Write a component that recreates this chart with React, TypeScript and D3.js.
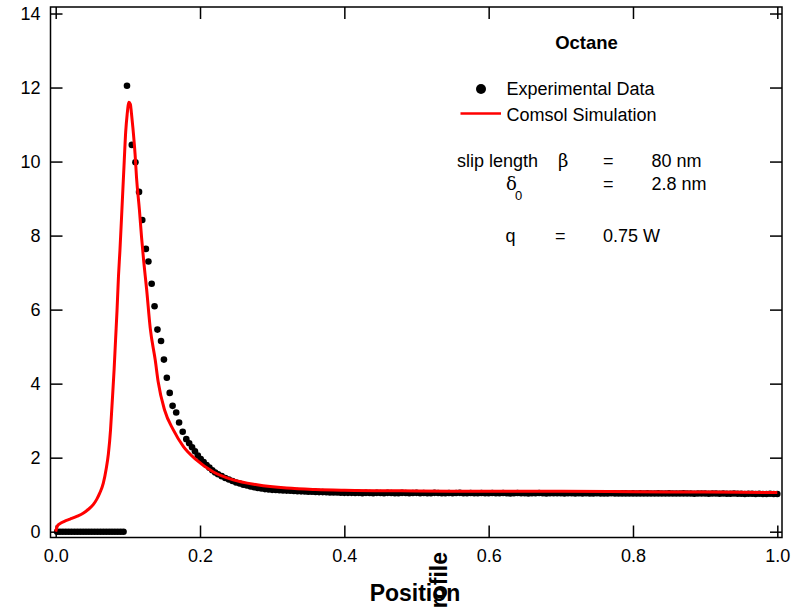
import React, { useEffect, useRef } from "react";
import * as d3 from "d3";

// experimental data (black dots)
const expPosition = [
  0.002, 0.006, 0.01, 0.014, 0.018, 0.022, 0.026, 0.03, 0.034, 0.038, 0.042, 0.046,
  0.05, 0.054, 0.058, 0.062, 0.066, 0.07, 0.074, 0.078, 0.082, 0.086, 0.09, 0.094,
  0.0988, 0.1055, 0.1105, 0.1155, 0.12, 0.125, 0.1285, 0.133, 0.137, 0.141, 0.146,
  0.15, 0.154, 0.158, 0.162, 0.167, 0.171, 0.176, 0.181, 0.185, 0.189, 0.193, 0.197,
  0.201, 0.205, 0.209, 0.213, 0.217, 0.221, 0.225, 0.23, 0.235, 0.24, 0.245, 0.25,
  0.255, 0.26, 0.265, 0.27, 0.275, 0.28, 0.285, 0.29, 0.295,
  0.3, 0.305, 0.31, 0.315, 0.32, 0.325, 0.33, 0.335, 0.34, 0.345,
  0.35, 0.355, 0.36, 0.365, 0.37, 0.375, 0.38, 0.385, 0.39, 0.395,
  0.4, 0.405, 0.41, 0.415, 0.42, 0.425, 0.43, 0.435, 0.44, 0.445,
  0.45, 0.455, 0.46, 0.465, 0.47, 0.475, 0.48, 0.485, 0.49, 0.495,
  0.5, 0.505, 0.51, 0.515, 0.52, 0.525, 0.53, 0.535, 0.54, 0.545,
  0.55, 0.555, 0.56, 0.565, 0.57, 0.575, 0.58, 0.585, 0.59, 0.595,
  0.6, 0.605, 0.61, 0.615, 0.62, 0.625, 0.63, 0.635, 0.64, 0.645,
  0.65, 0.655, 0.66, 0.665, 0.67, 0.675, 0.68, 0.685, 0.69, 0.695,
  0.7, 0.705, 0.71, 0.715, 0.72, 0.725, 0.73, 0.735, 0.74, 0.745,
  0.75, 0.755, 0.76, 0.765, 0.77, 0.775, 0.78, 0.785, 0.79, 0.795,
  0.8, 0.805, 0.81, 0.815, 0.82, 0.825, 0.83, 0.835, 0.84, 0.845,
  0.85, 0.855, 0.86, 0.865, 0.87, 0.875, 0.88, 0.885, 0.89, 0.895,
  0.9, 0.905, 0.91, 0.915, 0.92, 0.925, 0.93, 0.935, 0.94, 0.945,
  0.95, 0.955, 0.96, 0.965, 0.97, 0.975, 0.98, 0.985, 0.99, 0.995,
  1.0,
];
const expValue = [
  0, 0, 0, 0, 0, 0, 0, 0, 0, 0, 0, 0,
  0, 0, 0, 0, 0, 0, 0, 0, 0, 0, 0, 0,
  12.05, 10.45, 9.98, 9.18, 8.42, 7.64, 7.3, 6.7, 6.09, 5.46, 5.15,
  4.65, 4.16, 3.75, 3.4, 3.22, 2.95, 2.7, 2.5, 2.39, 2.28, 2.17, 2.06,
  1.96, 1.88, 1.8, 1.73, 1.66, 1.6, 1.55, 1.5, 1.45, 1.41, 1.37, 1.33,
  1.3, 1.27, 1.25, 1.22, 1.2, 1.18, 1.17, 1.15, 1.14,
  1.13, 1.125, 1.12, 1.115, 1.11, 1.105, 1.1, 1.095, 1.09, 1.085,
  1.08, 1.078, 1.075, 1.07, 1.07, 1.065, 1.06, 1.06, 1.06, 1.055,
  1.05, 1.05, 1.05, 1.045, 1.05, 1.04, 1.05, 1.045, 1.04, 1.05,
  1.045, 1.04, 1.05, 1.045, 1.04, 1.04, 1.05, 1.045, 1.04, 1.045,
  1.05, 1.04, 1.045, 1.04, 1.04, 1.05, 1.045, 1.04, 1.04, 1.045,
  1.04, 1.045, 1.05, 1.04, 1.04, 1.045, 1.04, 1.04, 1.045, 1.04,
  1.04, 1.045, 1.04, 1.04, 1.045, 1.04, 1.035, 1.04, 1.045, 1.04,
  1.04, 1.035, 1.04, 1.04, 1.045, 1.04, 1.035, 1.04, 1.04, 1.04,
  1.04, 1.035, 1.04, 1.04, 1.035, 1.04, 1.035, 1.04, 1.035, 1.035,
  1.04, 1.035, 1.03, 1.035, 1.04, 1.035, 1.03, 1.035, 1.035, 1.03,
  1.035, 1.03, 1.035, 1.03, 1.035, 1.03, 1.03, 1.035, 1.03, 1.03,
  1.035, 1.03, 1.03, 1.03, 1.035, 1.03, 1.03, 1.025, 1.03, 1.03,
  1.03, 1.025, 1.03, 1.03, 1.025, 1.03, 1.025, 1.025, 1.03, 1.025,
  1.025, 1.02, 1.025, 1.025, 1.02, 1.025, 1.02, 1.02, 1.025, 1.02,
  1.02,
];

// comsol simulation (red line)
const simPosition = [
  0, 0.002, 0.006, 0.012, 0.02, 0.03, 0.038, 0.045, 0.052, 0.057, 0.061, 0.066, 0.07,
  0.073, 0.076, 0.078, 0.081, 0.083, 0.085, 0.087, 0.089, 0.092, 0.095, 0.097, 0.099,
  0.1015, 0.1035, 0.105, 0.107, 0.11, 0.112, 0.116, 0.119, 0.122, 0.126, 0.131, 0.138,
  0.142, 0.151, 0.163, 0.177, 0.195, 0.218, 0.246, 0.279, 0.32, 0.36, 0.4, 0.5, 0.6,
  0.7, 0.8, 0.9, 1.0,
];
const simValue = [
  0, 0.14, 0.22, 0.28, 0.34, 0.42, 0.5, 0.6, 0.73, 0.88, 1.04, 1.31, 1.7,
  2.1, 2.75, 3.4, 4.4, 5.2, 5.98, 6.9, 7.59, 8.8, 10.02, 10.8, 11.27,
  11.6, 11.55, 11.3, 10.91, 10.2, 9.57, 8.7, 7.95, 7.3, 6.55, 5.5, 4.63,
  4.05, 3.28, 2.75, 2.3, 1.94, 1.62, 1.4, 1.27, 1.18, 1.14, 1.12, 1.1, 1.09,
  1.09, 1.08, 1.07, 1.06,
];

const xTicks = [0, 0.2, 0.4, 0.6, 0.8, 1.0];
const yTicks = [0, 2, 4, 6, 8, 10, 12, 14];

const font = "'Liberation Sans', Arial, sans-serif";

export default function App() {
  const ref = useRef<SVGSVGElement>(null);

  useEffect(() => {
    const svg = d3.select(ref.current);
    svg.selectAll("*").remove();

    const left = 50.5, right = 782, top = 7, bottom = 537.5;

    const x = d3.scaleLinear().domain([-0.0072, 1.0065]).range([left, right]);
    const y = d3.scaleLinear().domain([-0.157, 14.176]).range([bottom, top]);

    // frame
    svg.append("rect")
      .attr("x", left).attr("y", top)
      .attr("width", right - left).attr("height", bottom - top)
      .attr("fill", "none").attr("stroke", "#000").attr("stroke-width", 1.5);

    const styleAxis = (g) => {
      g.select(".domain").remove();
      g.selectAll(".tick line").attr("stroke", "#000").attr("stroke-width", 1.5);
      g.selectAll(".tick text")
        .attr("fill", "#000")
        .style("font-family", font)
        .style("font-size", "18px");
    };

    svg.append("g")
      .attr("transform", `translate(0,${bottom})`)
      .call(d3.axisBottom(x).tickValues(xTicks).tickSize(-12).tickPadding(12).tickFormat(d3.format(".1f")))
      .call(styleAxis);
    svg.append("g")
      .attr("transform", `translate(0,${top})`)
      .call(d3.axisTop(x).tickValues(xTicks).tickSize(-12).tickFormat(() => ""))
      .call(styleAxis);
    svg.append("g")
      .attr("transform", `translate(${left},0)`)
      .call(d3.axisLeft(y).tickValues(yTicks).tickSize(-12).tickPadding(10).tickFormat(d3.format("d")))
      .call(styleAxis);
    svg.append("g")
      .attr("transform", `translate(${right},0)`)
      .call(d3.axisRight(y).tickValues(yTicks).tickSize(-12).tickFormat(() => ""))
      .call(styleAxis);

    // experimental points
    const exp = expPosition.map((p, i) => [p, expValue[i]]);
    svg.append("g")
      .selectAll("circle")
      .data(exp)
      .enter()
      .append("circle")
      .attr("cx", d => x(d[0]))
      .attr("cy", d => y(d[1]))
      .attr("r", 3.3)
      .attr("fill", "#000");

    // simulation line
    const sim = simPosition.map((p, i) => [p, simValue[i]]);
    const line = d3.line().x(d => x(d[0])).y(d => y(d[1])).curve(d3.curveMonotoneX);
    svg.append("path")
      .datum(sim)
      .attr("d", line)
      .attr("fill", "none")
      .attr("stroke", "#ff0000")
      .attr("stroke-width", 3);

    // legend & annotation
    const txt = (tx, ty, s, opts = {}) =>
      svg.append("text")
        .attr("x", tx).attr("y", ty)
        .attr("fill", "#000")
        .style("font-family", opts.family || font)
        .style("font-size", (opts.size || 18) + "px")
        .style("font-weight", opts.weight || "normal")
        .attr("text-anchor", opts.anchor || "start")
        .text(s);

    txt(586.5, 49, "Octane", { weight: "bold", size: 18.5, anchor: "middle" });
    svg.append("circle").attr("cx", 481).attr("cy", 89).attr("r", 5).attr("fill", "#000");
    svg.append("line")
      .attr("x1", 460.5).attr("x2", 501)
      .attr("y1", 113.5).attr("y2", 113.5)
      .attr("stroke", "#ff0000").attr("stroke-width", 2.5);
    txt(506.5, 95, "Experimental Data");
    txt(506.5, 120.5, "Comsol Simulation");

    const serif = "'DejaVu Serif', 'Liberation Serif', serif";
    txt(457, 167, "slip length");
    txt(558, 167, "β", { family: serif });
    txt(603, 167, "=");
    txt(651.5, 167, "80 nm");
    txt(506, 190, "δ", { family: serif });
    txt(515, 200, "0", { size: 13 });
    txt(603, 190, "=");
    txt(651.5, 190, "2.8 nm");
    txt(505.5, 242, "q");
    txt(555, 242, "=");
    txt(603, 242, "0.75 W");

    // axis titles
    txt(415, 601, "Position", { weight: "bold", size: 23, anchor: "middle" });
    svg.append("text")
      .attr("transform", "translate(447,552) rotate(-90)")
      .attr("text-anchor", "end")
      .attr("fill", "#000")
      .style("font-family", font)
      .style("font-size", "23px")
      .style("font-weight", "bold")
      .text("Profile");
  }, []);

  return (
    <svg
      ref={ref}
      width={797}
      height={607}
      style={{ position: "absolute", left: 0, top: 0, background: "#fff" }}
    />
  );
}
